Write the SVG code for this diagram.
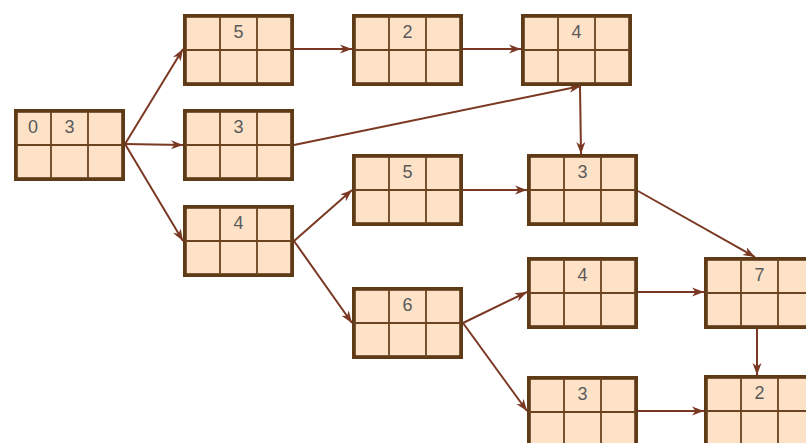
<svg xmlns="http://www.w3.org/2000/svg" width="806" height="443" viewBox="0 0 806 443">
<style>
.box{fill:#fde2c8;stroke:#5e3a17;stroke-width:3.8}
.div{stroke:#6b4320;stroke-width:1.8;fill:none}
.t{font-family:"Liberation Sans",Arial,sans-serif;font-size:18px;fill:#5a5a5a;text-anchor:middle}
.e{stroke:#7a3822;stroke-width:2;fill:none;marker-end:url(#ah)}
</style>
<defs>
<marker id="ah" markerUnits="userSpaceOnUse" markerWidth="13" markerHeight="11" refX="12" refY="5.5" orient="auto">
<path d="M0,1 L12,5.5 L0,10 L3.5,5.5 Z" fill="#7a3822"/>
</marker>
<g id="cell">
<rect class="box" x="1.9" y="1.9" width="107.2" height="68.2"/>
<path class="div" d="M37,2 V70 M74,2 V70 M2,36 H109"/>
</g>
</defs>
<g id="connectors">
<line class="e" x1="125" y1="144" x2="183" y2="49"/>
<line class="e" x1="125" y1="144" x2="183" y2="145"/>
<line class="e" x1="125" y1="144" x2="183" y2="241"/>
<line class="e" x1="294" y1="49" x2="352" y2="49"/>
<line class="e" x1="463" y1="49" x2="521" y2="49"/>
<line class="e" x1="294" y1="145" x2="581" y2="86"/>
<line class="e" x1="580" y1="86" x2="581" y2="154"/>
<line class="e" x1="294" y1="241" x2="352" y2="190"/>
<line class="e" x1="294" y1="241" x2="352" y2="323"/>
<line class="e" x1="463" y1="190" x2="527" y2="190"/>
<line class="e" x1="638" y1="191" x2="755" y2="257"/>
<line class="e" x1="463" y1="323" x2="527" y2="292"/>
<line class="e" x1="463" y1="323" x2="527" y2="411"/>
<line class="e" x1="638" y1="292" x2="704" y2="292"/>
<line class="e" x1="757" y1="325" x2="757" y2="375"/>
<line class="e" x1="638" y1="411" x2="704" y2="411"/>
</g>
<g id="n0" transform="translate(14,109)"><use href="#cell"/><text class="t" x="19" y="24">0</text><text class="t" x="55.5" y="24">3</text></g>
<g id="n1" transform="translate(183,14)"><use href="#cell"/><text class="t" x="55.5" y="24">5</text></g>
<g id="n2" transform="translate(352,14)"><use href="#cell"/><text class="t" x="55.5" y="24">2</text></g>
<g id="n3" transform="translate(521,14)"><use href="#cell"/><text class="t" x="55.5" y="24">4</text></g>
<g id="n4" transform="translate(183,109)"><use href="#cell"/><text class="t" x="55.5" y="24">3</text></g>
<g id="n5" transform="translate(183,205)"><use href="#cell"/><text class="t" x="55.5" y="24">4</text></g>
<g id="n6" transform="translate(352,154)"><use href="#cell"/><text class="t" x="55.5" y="24">5</text></g>
<g id="n7" transform="translate(527,154)"><use href="#cell"/><text class="t" x="55.5" y="24">3</text></g>
<g id="n8" transform="translate(352,287)"><use href="#cell"/><text class="t" x="55.5" y="24">6</text></g>
<g id="n9" transform="translate(527,257)"><use href="#cell"/><text class="t" x="55.5" y="24">4</text></g>
<g id="n10" transform="translate(527,376)"><use href="#cell"/><text class="t" x="55.5" y="24">3</text></g>
<g id="n11" transform="translate(704,257)"><use href="#cell"/><text class="t" x="55.5" y="24">7</text></g>
<g id="n12" transform="translate(704,375)"><use href="#cell"/><text class="t" x="55.5" y="24">2</text></g>
</svg>
